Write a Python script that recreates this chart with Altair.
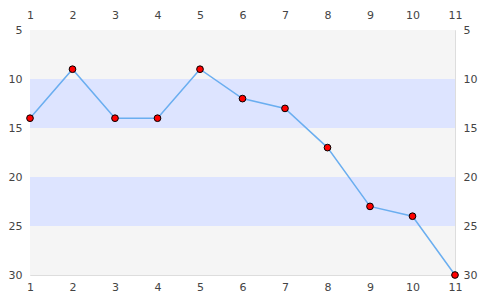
import altair as alt
import pandas as pd

xs = [1, 2, 3, 4, 5, 6, 7, 8, 9, 10, 11]
ys = [14, 9, 14, 14, 9, 12, 13, 17, 23, 24, 30]
band_start = [5, 10, 15, 20, 25]
band_end = [10, 15, 20, 25, 30]
band_kind = ["a", "b", "a", "b", "a"]

df = pd.DataFrame({"x": xs, "y": ys})
bands = pd.DataFrame({"y0": band_start, "y1": band_end, "kind": band_kind})

xscale = alt.Scale(domain=[1, 11], nice=False, zero=False)
yscale = alt.Scale(domain=[5, 30], reverse=True, nice=False, zero=False)

ax_common = dict(domain=False, ticks=False, grid=False, labelFontSize=11,
                 labelColor="#444", labelFont="DejaVu Sans", title=None, labelFlush=False)

xb = alt.Axis(orient="bottom", values=xs, labelPadding=6, **ax_common)
xt = alt.Axis(orient="top", values=xs, labelPadding=10, **ax_common)
yl = alt.Axis(orient="left", values=band_start + [30], labelPadding=8, **ax_common)
yr = alt.Axis(orient="right", values=band_start + [30], labelPadding=8, **ax_common)

rects = alt.Chart(bands).mark_rect().encode(
    x=alt.value(0), x2=alt.value(425),
    y=alt.Y("y0:Q", scale=yscale, axis=yl),
    y2="y1:Q",
    color=alt.Color("kind:N", scale=alt.Scale(domain=["a", "b"], range=["#f5f5f5", "#dde4ff"]), legend=None),
)

line = alt.Chart(df).mark_line(color="#6aaef0", strokeWidth=1.5).encode(
    x=alt.X("x:Q", scale=xscale, axis=xb),
    y=alt.Y("y:Q", scale=yscale, axis=yr),
)

pts = alt.Chart(df).mark_point(filled=True, fill="#ff0000", stroke="#000", strokeWidth=1,
                               size=45, opacity=1).encode(
    x=alt.X("x:Q", scale=xscale, axis=xt),
    y=alt.Y("y:Q", scale=yscale, axis=None),
)

chart = alt.layer(rects, line, pts).resolve_axis(x="independent", y="independent").properties(
    width=425, height=245,
    autosize=alt.AutoSizeParams(type="none"),
    padding={"left": 30, "top": 30, "right": 30, "bottom": 25},
).configure_view(stroke="#dddddd", strokeWidth=1).configure(background="white")

chart.save("out.html", embed_options={"renderer": "svg", "actions": False})
